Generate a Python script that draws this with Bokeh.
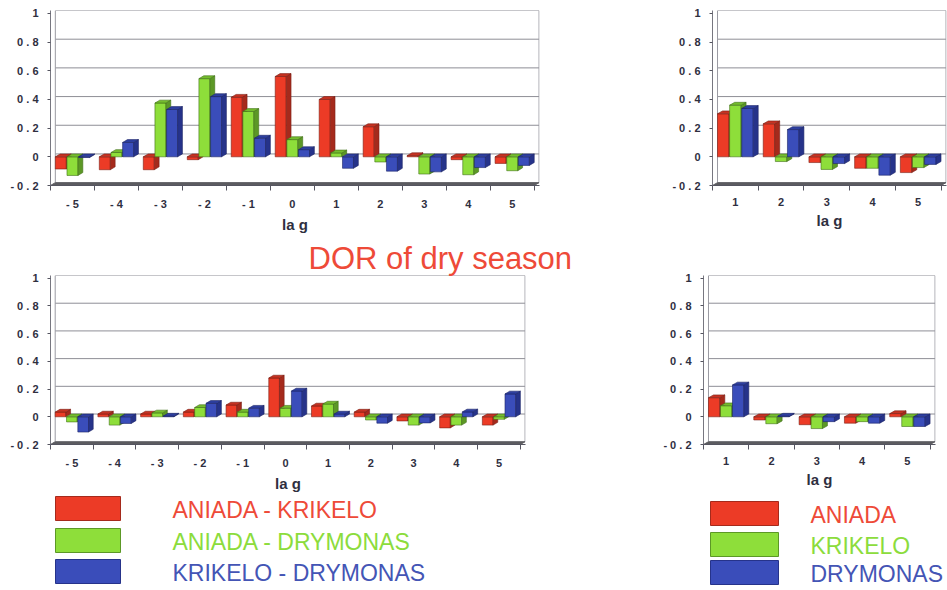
import numpy as np
from bokeh.plotting import figure
from bokeh.models import Range1d, FixedTicker, Spacer
from bokeh.layouts import row, column
from bokeh.embed import file_html
from bokeh.resources import INLINE
from bokeh.core.properties import value

# ---------------- data ----------------
lags_cross = [-5, -4, -3, -2, -1, 0, 1, 2, 3, 4, 5]
lags_auto = [1, 2, 3, 4, 5]
cross_tick_labels = ["- 5", "- 4", "- 3", "- 2", "- 1", "0", "1", "2", "3", "4", "5"]
auto_tick_labels = ["1", "2", "3", "4", "5"]
y_ticks = [-0.2, 0, 0.2, 0.4, 0.6, 0.8, 1]
y_tick_labels = ["- 0 . 2", "0", "0 . 2", "0 . 4", "0 . 6", "0 . 8", "1"]

cross_names = ["ANIADA - KRIKELO", "ANIADA - DRYMONAS", "KRIKELO - DRYMONAS"]
auto_names = ["ANIADA", "KRIKELO", "DRYMONAS"]

# upper charts (dry season, first variable)
top_cross_ak = [-0.085, -0.09, -0.09, -0.02, 0.415, 0.56, 0.40, 0.21, 0.008, -0.02, -0.046]
top_cross_ad = [-0.13, 0.03, 0.375, 0.545, 0.316, 0.12, 0.027, -0.036, -0.12, -0.125, -0.097]
top_cross_kd = [-0.005, 0.10, 0.33, 0.42, 0.13, 0.05, -0.08, -0.10, -0.105, -0.075, -0.06]
top_auto_a = [0.30, 0.23, -0.04, -0.08, -0.11]
top_auto_k = [0.36, -0.033, -0.088, -0.08, -0.075]
top_auto_d = [0.337, 0.19, -0.047, -0.128, -0.053]

# lower charts: DOR of dry season
dor_cross_ak = [0.034, 0.02, 0.02, 0.034, 0.085, 0.28, 0.078, 0.034, -0.03, -0.08, -0.06]
dor_cross_ad = [-0.037, -0.06, 0.028, 0.067, 0.034, 0.062, 0.092, -0.023, -0.06, -0.06, -0.018]
dor_cross_kd = [-0.11, -0.048, 0.005, 0.097, 0.062, 0.186, 0.02, -0.046, -0.044, 0.035, 0.165]
dor_auto_a = [0.138, -0.023, -0.057, -0.046, 0.023]
dor_auto_k = [0.08, -0.05, -0.085, -0.035, -0.07]
dor_auto_d = [0.23, 0.005, -0.035, -0.046, -0.07]

dor_title = "DOR of dry season"
lag_label = "la g"

# ---------------- style ----------------
FONT = "Liberation Sans"
TICK_COLOR = "#2f2f3f"
FRONT = ["#EC3B26", "#8EDE3A", "#3A4DBA"]
SIDE = ["#A52A1C", "#5C9826", "#26338A"]
TOPC = ["#C63222", "#74BC2E", "#2E3FA0"]
EDGE = ["#7a2015", "#41701a", "#1c2566"]
TEXTC = ["#EE4A38", "#8CDC3C", "#4455B5"]
DX, DY = 0.11, 0.02
OFFSETS = [-0.265, 0.0, 0.265]
BAR_W = 0.25


def chart(lags, tick_labels, series, width, height, borders, title=None, title_offset=0):
    xl, xr = lags[0] - 0.5, lags[-1] + 0.5
    p = figure(width=width, height=height, output_backend="svg", toolbar_location=None,
               tools="", x_range=Range1d(xl, xr + DX + 0.01), y_range=Range1d(-0.2, 1 + DY),
               min_border_left=borders[0], min_border_right=borders[1],
               min_border_top=borders[2], min_border_bottom=borders[3],
               title=title)
    p.outline_line_color = None
    p.grid.visible = False
    p.background_fill_color = "white"
    p.border_fill_color = "white"
    if title is not None:
        p.title.align = "left"
        p.title.offset = title_offset
        p.title.standoff = 0
        p.title.text_font = FONT
        p.title.text_font_size = "31px"
        p.title.text_font_style = "normal"
        p.title.text_color = "#EE4A38"

    # back wall with grid lines
    grid_vals = [t for t in y_ticks if t > -0.2]
    p.segment(x0=[xl + DX] * len(grid_vals), x1=[xr + DX] * len(grid_vals),
              y0=[t + DY for t in grid_vals], y1=[t + DY for t in grid_vals],
              line_color="#8e8e96", line_width=1)
    p.segment(x0=[xl + DX, xr + DX], x1=[xl + DX, xr + DX],
              y0=[-0.2 + DY, -0.2 + DY], y1=[1 + DY, 1 + DY],
              line_color="#9a9aa2", line_width=1)
    # floor
    p.patch(x=[xl, xr, xr + DX, xl + DX], y=[-0.2, -0.2, -0.2 + DY, -0.2 + DY],
            fill_color="#5c5c60", line_color="#5c5c60")

    # 3-D bars
    for i, vals in enumerate(series):
        x = np.asarray(lags, float) + OFFSETS[i]
        v = np.asarray(vals, float)
        lo = np.minimum(v, 0.0)
        hi = np.maximum(v, 0.0)
        x0 = x - BAR_W / 2
        x1 = x + BAR_W / 2
        p.quad(left=x0, right=x1, bottom=lo, top=hi, fill_color=FRONT[i],
               line_color=EDGE[i], line_width=0.6)
        p.patches(xs=[[a, a + DX, a + DX, a] for a in x1],
                  ys=[[l, l + DY, h + DY, h] for l, h in zip(lo, hi)],
                  fill_color=SIDE[i], line_color=EDGE[i], line_width=0.6)
        p.patches(xs=[[a, a + DX, b + DX, b] for a, b in zip(x0, x1)],
                  ys=[[h, h + DY, h + DY, h] for h in hi],
                  fill_color=TOPC[i], line_color=EDGE[i], line_width=0.6)

    # axes
    xa = p.xaxis[0]
    xa.ticker = FixedTicker(ticks=lags, minor_ticks=[l - 0.5 for l in lags] + [xr])
    xa.major_label_overrides = {l: s for l, s in zip(lags, tick_labels)}
    xa.major_tick_line_color = None
    xa.major_tick_out = 0
    xa.major_tick_in = 0
    xa.minor_tick_out = 5
    xa.minor_tick_in = 0
    xa.minor_tick_line_color = "#555560"
    xa.axis_line_color = "#555560"
    xa.major_label_standoff = 7
    xa.major_label_text_font = FONT
    xa.major_label_text_font_style = "bold"
    xa.major_label_text_font_size = "11px"
    xa.major_label_text_color = TICK_COLOR
    xa.axis_label = lag_label
    xa.axis_label_standoff = 3
    xa.axis_label_text_font = FONT
    xa.axis_label_text_font_style = "bold"
    xa.axis_label_text_font_size = "15px"
    xa.axis_label_text_color = TICK_COLOR

    ya = p.yaxis[0]
    ya.ticker = FixedTicker(ticks=y_ticks, minor_ticks=[])
    ya.major_label_overrides = {t: s for t, s in zip(y_ticks, y_tick_labels)}
    ya.major_tick_out = 3
    ya.major_tick_in = 0
    ya.major_tick_line_color = "#555560"
    ya.axis_line_color = "#777780"
    ya.major_label_standoff = 9
    ya.major_label_text_font = FONT
    ya.major_label_text_font_style = "bold"
    ya.major_label_text_font_size = "11px"
    ya.major_label_text_color = TICK_COLOR
    return p


def legend_fig(names, width, height, sw_x0, sw_x1, sw_tops, sw_h, text_x, text_dy):
    p = figure(width=width, height=height, output_backend="svg", toolbar_location=None,
               tools="", x_range=Range1d(0, width), y_range=Range1d(height, 0),
               min_border=0, x_axis_location=None, y_axis_location=None, title=None)
    p.outline_line_color = None
    p.grid.visible = False
    n = len(names)
    tops = list(sw_tops)
    p.quad(left=[sw_x0] * n, right=[sw_x1] * n, top=tops, bottom=[t + sw_h for t in tops],
           fill_color=FRONT, line_color=SIDE, line_width=1)
    p.text(x=[text_x] * n, y=[t + sw_h / 2 + text_dy for t in tops], text=names,
           text_color=TEXTC, text_font=value(FONT), text_font_size="23px",
           text_baseline="middle", text_align="left")
    return p


p1 = chart(lags_cross, cross_tick_labels, [top_cross_ak, top_cross_ad, top_cross_kd],
           543, 235, (50, 4, 10, 46))
p2 = chart(lags_auto, auto_tick_labels, [top_auto_a, top_auto_k, top_auto_d],
           280, 235, (45, 1, 10, 50))
p3 = chart(lags_cross, cross_tick_labels, [dor_cross_ak, dor_cross_ad, dor_cross_kd],
           582, 259, (50, 57, 40, 42), title=dor_title, title_offset=258)
p4 = chart(lags_auto, auto_tick_labels, [dor_auto_a, dor_auto_k, dor_auto_d],
           289, 259, (45, 12, 35, 46))

l1 = legend_fig(cross_names, 600, 96, 55, 120, [2, 34, 65], 24, 172, 1)
l2 = legend_fig(auto_names, 246, 96, 10, 78, [7, 38, 66], 24, 110, 1)

layout = column(
    row(p1, Spacer(width=124, height=235), p2),
    row(p3, Spacer(width=76, height=259), p4),
    row(l1, Spacer(width=100, height=96), l2),
)

open("out.html", "w").write(file_html(layout, INLINE))
